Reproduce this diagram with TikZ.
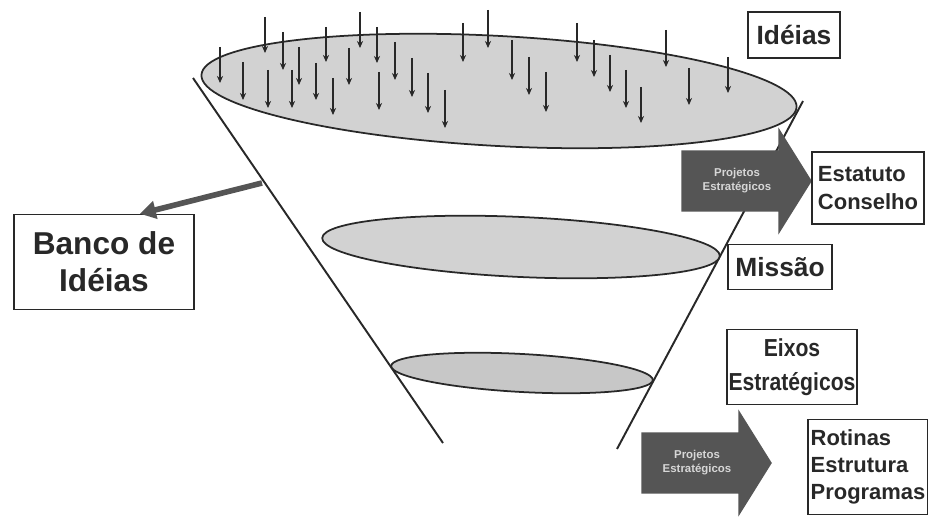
\documentclass[tikz,border=0pt]{standalone}
\usepackage{fontspec}
\setmainfont{Liberation Sans}
\newfontfamily\narrowsans[FakeStretch=0.86]{Liberation Sans}
\usepackage{tikz}
\usetikzlibrary{shapes.arrows, arrows.meta, positioning}

\definecolor{inkgray}{RGB}{40,40,40}
\definecolor{stagefill}{RGB}{210,210,210}
\definecolor{projfill}{RGB}{85,85,85}
\definecolor{projtext}{RGB}{215,215,215}

\begin{document}
\begin{tikzpicture}[x=0.02cm, y=-0.02cm,
        stagebox/.style={rectangle, draw=inkgray, fill=white, line width=0.8pt, text=inkgray, font=\bfseries, inner sep=0pt},
        stage/.style={draw=inkgray, fill=stagefill, line width=1pt},
        funnel/.style={draw=inkgray, line width=1.1pt},
        idea/.style={-{Stealth[length=4pt, width=3.5pt]}, draw=inkgray, line width=0.6pt},
        bank/.style={-{Triangle[length=9pt, width=10pt]}, draw=projfill, line width=3.2pt},
        project/.style={single arrow, fill=projfill, text=projtext, align=center, font=\fontsize{6.5}{8}\selectfont\bfseries,
            inner xsep=0.42cm, inner ysep=0.36cm, single arrow head extend=0.46cm, single arrow tip angle=116}
    ]
        \useasboundingbox (0,0) rectangle (928,530);

        % Funnel
        \coordinate (ltop) at (193,78);
        \coordinate (lbot) at (443,443);
        \coordinate (rtop) at (803,101);
        \coordinate (rbot) at (617,449);
        \draw[funnel] (ltop) -- (lbot);
        \draw[funnel] (rtop) -- (rbot);

        % Stages
        \draw[stage, rotate around={-3.1:(499,91)}] (499,91) ellipse [x radius=298, y radius=55];
        \draw[stage, rotate around={-2.6:(521,247)}] (521,247) ellipse [x radius=199, y radius=30];
        \draw[stage, fill=stagefill!95!black, rotate around={-3.1:(522,373)}] (522,373) ellipse [x radius=131, y radius=19];

        % Ideas falling in
        \foreach \x/\ya/\yb in {220/47/83, 243/62/100, 265/17/53, 268/70/108, 283/32/70, 292/70/108,
                299/47/85, 316/63/100, 326/27/62, 333/78/115, 349/48/85, 360/12/48, 377/27/63,
                379/72/110, 395/42/80, 412/58/97, 428/73/113, 445/90/128, 463/23/62, 488/10/48,
                512/40/80, 529/57/95, 546/72/112, 577/23/62, 594/40/77, 610/55/92, 626/70/108,
                641/87/123, 666/30/67, 689/68/105, 728/57/93}
            \draw[idea] (\x,\ya) -- (\x,\yb);

        % Projects
        \node[project] (proj1) at (737,181) {Projetos\\Estratégicos};
        \node[project] (proj2) at (697,463) {Projetos\\Estratégicos};

        % Boxes
        \node[stagebox, minimum width=1.84cm, minimum height=0.92cm, font=\fontsize{15}{18}\selectfont\bfseries] (ideias) at (794,35) {Idéias};
        \node[stagebox, minimum width=2.24cm, minimum height=1.44cm, align=left, font=\fontsize{12.5}{16}\selectfont\bfseries] (estatuto) at (868,188) {Estatuto\\Conselho};
        \node[stagebox, minimum width=2.08cm, minimum height=0.9cm, font=\fontsize{15}{18}\selectfont\bfseries] (missao) at (780,267) {Missão};
        \node[stagebox, minimum width=2.6cm, minimum height=1.5cm, align=center, font=\narrowsans\fontsize{14}{19}\selectfont\bfseries] (eixos) at (792,367) {Eixos\\Estratégicos};
        \node[stagebox, minimum width=2.4cm, minimum height=1.9cm, align=left, font=\fontsize{12.5}{15.5}\selectfont\bfseries] (rotinas) at (868,467) {Rotinas\\Estrutura\\Programas};
        \node[stagebox, minimum width=3.6cm, minimum height=1.9cm, align=center, font=\fontsize{18}{21}\selectfont\bfseries] (banco) at (104,262) {Banco de\\Idéias};

        % Idea bank
        \coordinate (drop) at (262,183);
        \draw[bank] (drop) -- (banco.north -| 140,0);
\end{tikzpicture}
\end{document}
